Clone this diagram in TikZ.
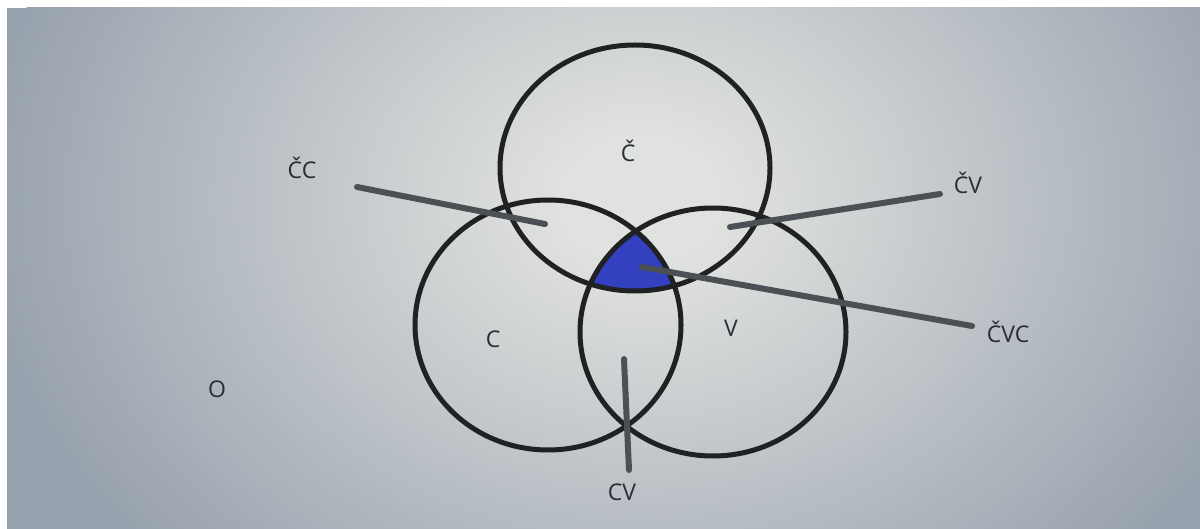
\documentclass[tikz,border=0pt]{standalone}
\usepackage{fontspec}
\setmainfont{Open Sans}
\definecolor{bgin}{HTML}{E0E2DF}
\definecolor{bgout}{HTML}{98A2AE}
\definecolor{ringcol}{HTML}{1F2123}
\definecolor{leadcol}{HTML}{4C5054}
\definecolor{txtcol}{HTML}{2A2D31}
\definecolor{blueregion}{HTML}{3340C0}
\pgfdeclareradialshading{bgshade}{\pgfpoint{0bp}{0bp}}{color(0bp)=(bgin); color(3bp)=(bgin); color(25bp)=(bgout); color(50bp)=(bgout)}
\tikzset{
  ring/.style={draw=ringcol, line width=5pt},
  leader/.style={draw=leadcol, line width=6pt, line cap=round},
  lbl/.style={text=txtcol, font=\fontsize{23}{26}\selectfont, inner sep=0pt}
}
\begin{document}
\begin{tikzpicture}[x=1pt,y=-1pt]
\useasboundingbox (0,0) rectangle (1200,529);
\fill[white] (0,0) rectangle (1200,529);
\fill[bgout] (7,8) rectangle (1200,529);
\begin{scope}
  \clip (7,8) rectangle (1200,529);
  \shade[shading=bgshade] (640,200) ellipse [x radius=660, y radius=520];
\end{scope}
% intersection region
\begin{scope}
  \clip (635,168) ellipse [x radius=135, y radius=123];
  \clip (548,325) ellipse [x radius=133, y radius=125];
  \fill[blueregion] (713,332) ellipse [x radius=133, y radius=124];
\end{scope}
% circles
\draw[ring] (635,168) ellipse [x radius=135, y radius=123];
\draw[ring] (548,325) ellipse [x radius=133, y radius=125];
\draw[ring] (713,332) ellipse [x radius=133, y radius=124];
% labels
\node[lbl] (lC1) at (628,151) {Č};
\node[lbl] (lCC) at (302,168) {ČC};
\node[lbl] (lCV1) at (968,183) {ČV};
\node[lbl] (lCVC) at (1008,332) {ČVC};
\node[lbl] (lC) at (493,339) {C};
\node[lbl] (lV) at (731,328) {V};
\node[lbl] (lCV) at (622,492) {CV};
\node[lbl] (lO) at (217,389) {O};
% leader line ends
\coordinate (ccA) at (357,187);
\coordinate (ccB) at (545,224);
\coordinate (cvA) at (940,194);
\coordinate (cvB) at (730,227);
\coordinate (cvcA) at (642,267);
\coordinate (cvcB) at (972,326);
\coordinate (vA) at (624,359);
\coordinate (vB) at (629,470);
\draw[leader] (ccA) -- (ccB);
\draw[leader] (cvA) -- (cvB);
\draw[leader] (cvcA) -- (cvcB);
\draw[leader] (vA) -- (vB);
\end{tikzpicture}
\end{document}
